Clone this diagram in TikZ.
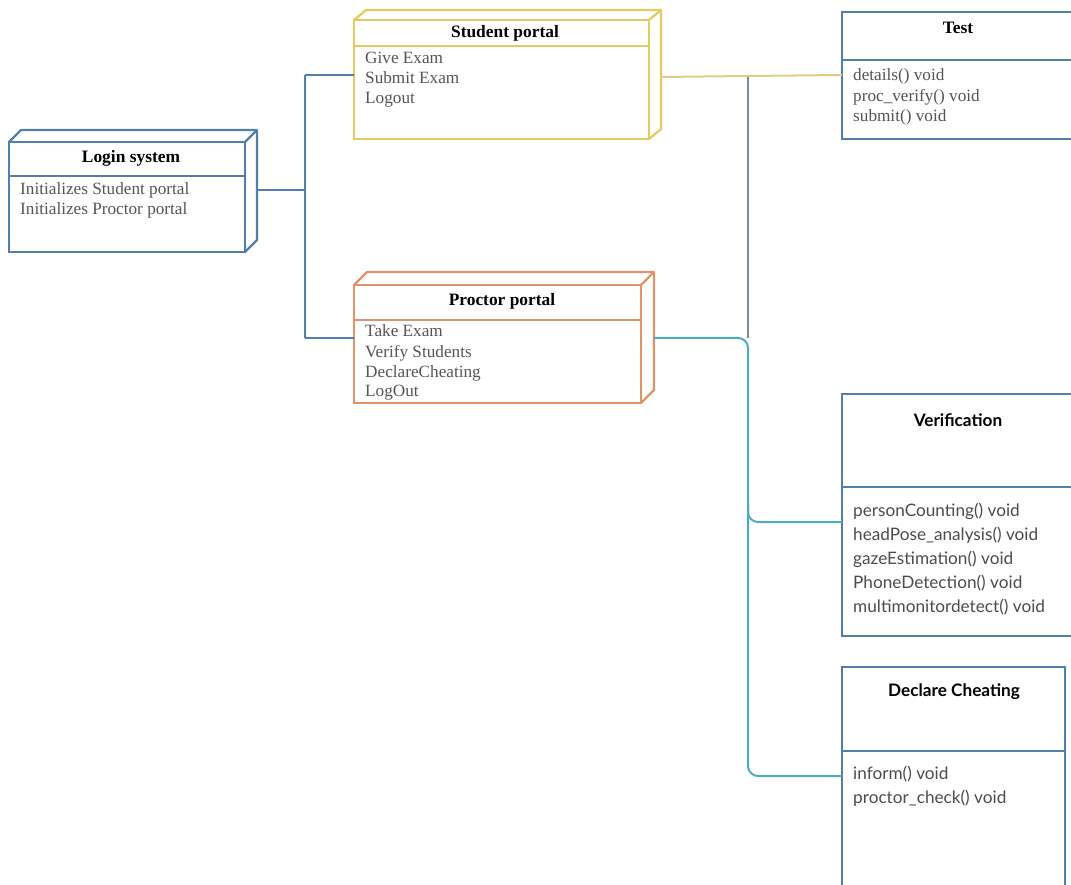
\documentclass[tikz,border=0pt]{standalone}
\usepackage{fontspec}
\setmainfont{Liberation Serif}
\newfontfamily\latofont{Lato}
\definecolor{cBlue}{HTML}{4F7FAA}
\definecolor{cYellow}{HTML}{E2CB60}
\definecolor{cOrange}{HTML}{DF9368}
\definecolor{cTan}{HTML}{E2CB86}
\definecolor{cGrey}{HTML}{6F8DA8}
\definecolor{cTeal}{HTML}{4EADBC}
\definecolor{cItem}{HTML}{555555}
\begin{document}
\begin{tikzpicture}[x=1pt,y=-1pt,
  boxshape/.style={draw, fill=white, line width=2.2pt, inner sep=0pt, outer sep=0pt, anchor=north west},
  titleserif/.style={font=\fontsize{17.4}{20}\selectfont\bfseries, inner sep=0pt},
  itemserif/.style={font=\fontsize{17.2}{20}\selectfont, text=cItem, inner sep=0pt, anchor=base west},
  titlesans/.style={font=\latofont\fontsize{17.2}{20}\selectfont\bfseries, inner sep=0pt},
  itemsans/.style={font=\latofont\fontsize{17.2}{20}\selectfont, text=cItem!90!black, inner sep=0pt, anchor=base west},
  link/.style={line width=2pt}]
\useasboundingbox (0,0) rectangle (1071,885);
\clip (0,0) rectangle (1071,885);

% ---------- junction points of the connectors ----------
\coordinate (lj) at (305,190);
\coordinate (jtop) at (305,75);
\coordinate (jbot) at (305,338);
\coordinate (tj) at (748,76);
\coordinate (pj) at (748,338);
\coordinate (vj) at (748,522);
\coordinate (dj) at (748,776);

% ---------- Login system ----------
\node[boxshape, draw=cBlue, minimum width=236, minimum height=110] (login) at (9,142) {};
\draw[cBlue, line width=2.2pt, line join=round]
  (login.north west) -- ++(12,-12) -- ([shift={(12,-12)}]login.north east)
  -- ([shift={(12,-12)}]login.south east) -- (login.south east);
\draw[cBlue, line width=2.2pt] (login.north east) -- ++(12,-12);
\draw[cBlue, line width=2.2pt] ([yshift=-34]login.north west) -- ([yshift=-34]login.north east);
\node[titleserif] (logint) at (131,158) {Login system};
\node[itemserif] (logini1) at (20,195) {Initializes Student portal};
\node[itemserif] (logini2) at (20,215) {Initializes Proctor portal};

% ---------- Student portal ----------
\node[boxshape, draw=cYellow, minimum width=295, minimum height=119] (student) at (354,20) {};
\draw[cYellow, line width=2.2pt, line join=round]
  (student.north west) -- ++(12,-10) -- ([shift={(12,-10)}]student.north east)
  -- ([shift={(12,-10)}]student.south east) -- (student.south east);
\draw[cYellow, line width=2.2pt] (student.north east) -- ++(12,-10);
\draw[cYellow, line width=2.2pt] ([yshift=-26]student.north west) -- ([yshift=-26]student.north east);
\node[titleserif] (studentt) at (505,33) {Student portal};
\node[itemserif] (studenti1) at (365,64) {Give Exam};
\node[itemserif] (studenti2) at (365,84) {Submit Exam};
\node[itemserif] (studenti3) at (365,104) {Logout};

% ---------- Proctor portal ----------
\node[boxshape, draw=cOrange, minimum width=287, minimum height=118] (proctor) at (354,285) {};
\draw[cOrange, line width=2.2pt, line join=round]
  (proctor.north west) -- ++(13,-13) -- ([shift={(13,-13)}]proctor.north east)
  -- ([shift={(13,-13)}]proctor.south east) -- (proctor.south east);
\draw[cOrange, line width=2.2pt] (proctor.north east) -- ++(13,-13);
\draw[cOrange, line width=2.2pt] ([yshift=-35]proctor.north west) -- ([yshift=-35]proctor.north east);
\node[titleserif] (proctort) at (502,301) {Proctor portal};
\node[itemserif] (proctori1) at (365,337) {Take Exam};
\node[itemserif] (proctori2) at (365,357) {Verify Students};
\node[itemserif] (proctori3) at (365,377) {DeclareCheating};
\node[itemserif] (proctori4) at (365,396) {LogOut};

% ---------- Test ----------
\node[boxshape, draw=cBlue, minimum width=234, minimum height=127] (test) at (842,12) {};
\draw[cBlue, line width=2.2pt] ([yshift=-48]test.north west) -- ([yshift=-48]test.north east);
\node[titleserif] (testt) at (958,28) {Test};
\node[itemserif] (testi1) at (853,81) {details() void};
\node[itemserif] (testi2) at (853,102) {proc\_verify() void};
\node[itemserif] (testi3) at (853,122) {submit() void};

% ---------- Verification ----------
\node[boxshape, draw=cBlue, minimum width=234, minimum height=242] (verif) at (842,394) {};
\draw[cBlue, line width=2.2pt] ([yshift=-93]verif.north west) -- ([yshift=-93]verif.north east);
\node[titlesans] (veriftt) at (958,420) {Verification};
\node[itemsans] (verifi1) at (853,516) {personCounting() void};
\node[itemsans] (verifi2) at (853,540) {headPose\_analysis() void};
\node[itemsans] (verifi3) at (853,564) {gazeEstimation() void};
\node[itemsans] (verifi4) at (853,588) {PhoneDetection() void};
\node[itemsans] (verifi5) at (853,612) {multimonitordetect() void};

% ---------- Declare Cheating ----------
\node[boxshape, draw=cBlue, minimum width=223, minimum height=240] (declare) at (842,667) {};
\draw[cBlue, line width=2.2pt] ([yshift=-84]declare.north west) -- ([yshift=-84]declare.north east);
\node[titlesans] (declaret) at (954,692) {Declare Cheating};
\node[itemsans] (declarei1) at (853,779) {inform() void};
\node[itemsans] (declarei2) at (853,803) {proctor\_check() void};

% ---------- links ----------
\draw[link, cBlue] ([shift={(12,-7)}]login.east) -- (lj);
\draw[link, cBlue] (jtop) -- (jbot);
\draw[link, cBlue] (jtop) -- ([shift={(0,-4.5)}]student.west);
\draw[link, cBlue] (jbot) -- ([shift={(0,-6)}]proctor.west);
\draw[link, cGrey] (tj) -- (pj);
\draw[link, cTan] ([shift={(12,-2.5)}]student.east) -- (tj) -- ([shift={(0,-0.5)}]test.west);
\draw[link, cTeal, rounded corners=10] ([shift={(13,-6)}]proctor.east) -- (pj) -- (dj) -- (dj -| declare.west);
\draw[link, cTeal, rounded corners=10] ([yshift=20]vj) -- (vj) -- (vj -| verif.west);
\end{tikzpicture}
\end{document}
